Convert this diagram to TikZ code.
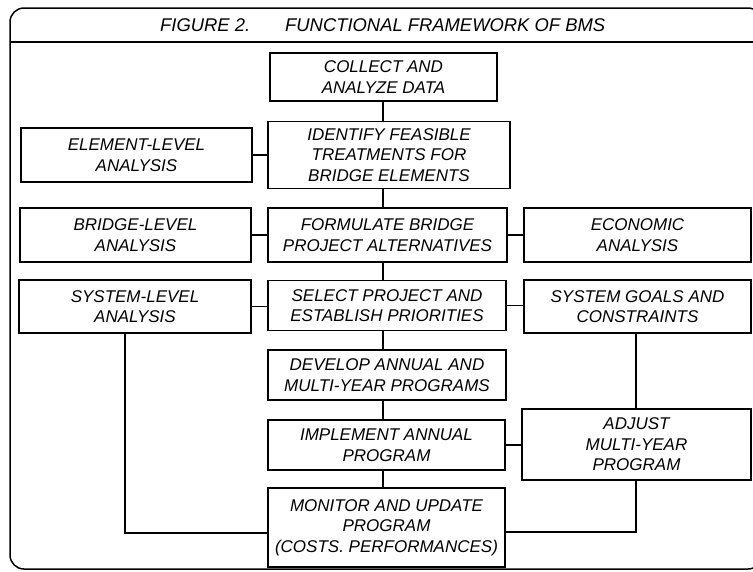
\documentclass[tikz,border=0pt]{standalone}
\usepackage{fontspec}
\setmainfont{Liberation Sans}
\begin{document}
\begin{tikzpicture}[x=1pt,y=-1pt,
  box/.style={draw, line width=1.4pt, inner sep=0pt, align=center,
    font=\fontsize{17}{20.5}\selectfont\itshape},
  link/.style={line width=1.6pt},
  frameline/.style={line width=1.5pt},
  titletext/.style={font=\fontsize{18.4}{22}\selectfont\itshape, anchor=base west, inner sep=0pt}]
\useasboundingbox (0,0) rectangle (753,571);
\begin{scope}
  \clip (0,0) rectangle (753,571);
  \draw[frameline, rounded corners=14pt] (10,8) rectangle (762,569);
  \draw[frameline] (10,42) -- (762,42);
\end{scope}
\node[titletext] (t1) at (160,31.5) {FIGURE 2.};
\node[titletext] (t2) at (285,31.5) {FUNCTIONAL FRAMEWORK OF BMS};

% central column
\node[box, minimum width=227pt, minimum height=48pt] (collect) at (383.5,77) {COLLECT AND\\ANALYZE DATA};
\node[box, minimum width=242pt, minimum height=67pt] (identify) at (389,155) {IDENTIFY FEASIBLE\\TREATMENTS FOR\\BRIDGE ELEMENTS};
\node[box, minimum width=239pt, minimum height=54pt] (formulate) at (387.5,235) {FORMULATE BRIDGE\\PROJECT ALTERNATIVES};
\node[box, minimum width=238pt, minimum height=50pt] (select) at (387,305.5) {SELECT PROJECT AND\\ESTABLISH PRIORITIES};
\node[box, minimum width=238pt, minimum height=50pt] (develop) at (387,375) {DEVELOP ANNUAL AND\\MULTI-YEAR PROGRAMS};
\node[box, minimum width=237pt, minimum height=50pt] (implement) at (386.5,445) {IMPLEMENT ANNUAL\\PROGRAM};
\node[box, minimum width=237pt, minimum height=79pt] (monitor) at (386.5,527.5) {MONITOR AND UPDATE\\PROGRAM\\(COSTS. PERFORMANCES)};

% left column
\node[box, minimum width=231pt, minimum height=54pt] (element) at (136.5,155) {ELEMENT-LEVEL\\ANALYSIS};
\node[box, minimum width=231pt, minimum height=54pt] (bridge) at (135.5,235) {BRIDGE-LEVEL\\ANALYSIS};
\node[box, minimum width=232pt, minimum height=53pt] (system) at (135,306.5) {SYSTEM-LEVEL\\ANALYSIS};

% right column
\node[box, minimum width=227pt, minimum height=54pt] (economic) at (637.5,235) {ECONOMIC\\ANALYSIS};
\node[box, minimum width=227pt, minimum height=53pt] (goals) at (637.5,306.5) {SYSTEM GOALS AND\\CONSTRAINTS};
\node[box, minimum width=229pt, minimum height=71pt] (adjust) at (636.5,444.5) {ADJUST\\MULTI-YEAR\\PROGRAM};

% spine coordinates
\coordinate (spine) at (383,0);
\coordinate (sl) at (125,533);
\coordinate (ar) at (636,532);

% vertical chain
\draw[link] (collect.south -| spine) -- (identify.north -| spine);
\draw[link] (identify.south -| spine) -- (formulate.north -| spine);
\draw[link] (formulate.south -| spine) -- (select.north -| spine);
\draw[link] (select.south -| spine) -- (develop.north -| spine);
\draw[link] (develop.south -| spine) -- (implement.north -| spine);
\draw[link] (implement.south -| spine) -- (monitor.north -| spine);

% horizontal links
\draw[link] (element.east) -- (element.east -| identify.west);
\draw[link] (bridge.east) -- (bridge.east -| formulate.west);
\draw[link] (system.east) -- (system.east -| select.west);
\draw[link] (formulate.east) -- (formulate.east -| economic.west);
\draw[link] (select.east) -- (select.east -| goals.west);
\draw[link] (implement.east) -- (implement.east -| adjust.west);

% feedback
\draw[link] (system.south -| sl) -- (sl) -- (sl -| monitor.west);
\draw[link] (goals.south -| ar) -- (adjust.north -| ar);
\draw[link] (adjust.south -| ar) -- (ar) -- (ar -| monitor.east);
\end{tikzpicture}
\end{document}
